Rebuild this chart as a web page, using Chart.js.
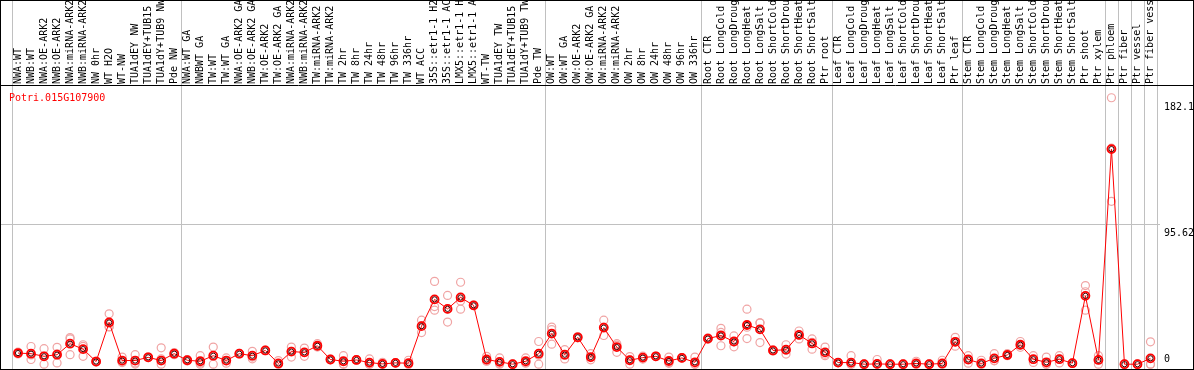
<!DOCTYPE html>
<html>
<head>
<meta charset="utf-8">
<script src="https://cdn.jsdelivr.net/npm/chart.js@4.4.1/dist/chart.umd.min.js"></script>
<style>
  html, body { margin: 0; padding: 0; background: #fff; }
  canvas { display: block; }
</style>
</head>
<body>
<canvas id="exprChart" width="1194" height="370"></canvas>
<script>
const geneId = "Potri.015G107900";

const categories = [
  "NWA:WT", "NWB:WT", "NWA:OE-ARK2", "NWB:OE-ARK2", "NWA:miRNA-ARK2", "NWB:miRNA-ARK2",
  "NW 0hr", "WT H2O", "WT-NW", "TUA1dEY NW", "TUA1dEY+TUB15 NW", "TUA1dY+TUB9 NW", "Pde NW",
  "NWA:WT GA", "NWBWT GA", "TW:WT", "TW:WT GA", "NWA:OE-ARK2 GA", "NWB:OE-ARK2 GA",
  "TW:OE-ARK2", "TW:OE-ARK2 GA", "NWA:miRNA-ARK2 GA", "NWB:miRNA-ARK2 GA", "TW:miRNA-ARK2",
  "TW:miRNA-ARK2 GA", "TW 2hr", "TW 8hr", "TW 24hr", "TW 48hr", "TW 96hr", "TW 336hr",
  "WT ACC", "35S::etr1-1 H2O", "35S::etr1-1 ACC", "LMX5::etr1-1 H2O", "LMX5::etr1-1 ACC",
  "WT-TW", "TUA1dEY TW", "TUA1dEY+TUB15 TW", "TUA1dY+TUB9 TW", "Pde TW",
  "OW:WT", "OW:WT GA", "OW:OE-ARK2", "OW:OE-ARK2 GA", "OW:miRNA-ARK2", "OW:miRNA-ARK2 GA",
  "OW 2hr", "OW 8hr", "OW 24hr", "OW 48hr", "OW 96hr", "OW 336hr",
  "Root CTR", "Root LongCold", "Root LongDrought", "Root LongHeat", "Root LongSalt",
  "Root ShortCold", "Root ShortDrought", "Root ShortHeat", "Root ShortSalt", "Ptr root",
  "Leaf CTR", "Leaf LongCold", "Leaf LongDrought", "Leaf LongHeat", "Leaf LongSalt",
  "Leaf ShortCold", "Leaf ShortDrought", "Leaf ShortHeat", "Leaf ShortSalt", "Ptr leaf",
  "Stem CTR", "Stem LongCold", "Stem LongDrought", "Stem LongHeat", "Stem LongSalt",
  "Stem ShortCold", "Stem ShortDrought", "Stem ShortHeat", "Stem ShortSalt",
  "Ptr shoot", "Ptr xylem", "Ptr phloem", "Ptr fiber", "Ptr vessel", "Ptr fiber vessel"
];

// mean expression per sample
const means = [
  7.6, 7.2, 5.4, 6.5, 14, 10.3, 1.8, 28.5, 2.5, 2.5, 4.7, 2.5, 7.2,
  2.7, 2.0, 5.8, 2.5, 7.2, 5.8, 9.4, 0.5, 8.6, 8.1, 12.6, 3.2, 2.0, 2.9, 1.1, 0.2, 0.9, 0.7,
  26, 44.3, 37.8, 45.6, 40.2, 3.2, 1.6, 0, 2.0, 7.2,
  20.9, 6.5, 18.4, 4.9, 25, 11.7, 2.7, 4.5, 5.4, 2.2, 4.3, 1.3,
  17.5, 19.6, 15.5, 26.8, 23.8, 9.4, 9.9, 20, 14.2, 8.1,
  1.1, 1.1, 0, 0.2, 0, 0, 0.5, 0, 0.5, 15.3,
  3.2, 0.5, 4, 6.3, 13.3, 3.4, 1.3, 3.4, 0.7,
  46.7, 2.9, 147, 0, 0, 4
];

// individual replicates
const rep1 = [
  8.2, 12.1, 10.6, 11.5, 18.2, 13.3, 1.8, 34.4, 4.9, 6.5, 5.0, 11.2, 7.2,
  2.7, 5.8, 11.7, 4.3, 7.2, 8.8, 9.4, 2.5, 11.7, 11, 14, 3.2, 5.8, 2.9, 3.6, 1.3, 0.9, 2.7,
  30.1, 56.6, 47, 56, 40.2, 5.4, 4.3, 0, 4.3, 15.5,
  25.4, 9.9, 18.4, 7.2, 30.1, 14, 5.2, 5.5, 5.4, 4.9, 4.3, 4.9,
  17.5, 24.5, 19.3, 37.6, 28.3, 9.4, 13.3, 22.7, 17.3, 11.7,
  1.1, 5.8, 0, 3.2, 0, 0, 2, 0, 2.7, 18.4,
  5.8, 2.7, 7.2, 7.2, 15.5, 5.8, 4.9, 5.8, 0.7,
  53.7, 5.8, 182.1, 0, 0, 15.3
];
const rep2 = [
  7.0, 3.2, 0, 0.9, 6.5, 5.4, 1.5, 25.6, 1.5, 0.9, 4.5, 3.6, 6.5,
  3.2, 0.9, 0, 2.5, 7.5, 4.9, 9.2, 0, 4.9, 5.4, 12, 3.5, 0.2, 3.2, 0, 0, 0.9, 0,
  21.6, 36.9, 28.8, 37.6, 40, 2, 0.5, 0, 1, 0,
  13.7, 3.6, 18, 4.5, 19.6, 8.1, 0, 3.5, 5.6, 1.1, 4.5, 0,
  17, 12.6, 11.9, 17.5, 14.8, 9, 6.9, 20, 10.3, 5.8,
  1.1, 0, 0, 0, 0, 0, 0, 0, 0, 15.3,
  3.2, 0, 2.5, 6, 13, 3.2, 0, 3.6, 0.7,
  36.9, 3, 111.3, 0, 0, 0
];
const rep3 = [
  7.6, 6.3, 5.6, 7.0, 17.3, 12.2, 2.1, 25.5, 1.1, 0.1, 4.6, 0, 8.0,
  2.2, 0, 5.8, 0.7, 7.0, 3.7, 9.6, 0, 8.8, 8, 11.8, 3, 0, 2.7, 0, 0, 0.9, 0,
  26.3, 39.4, 37.6, 43.2, 40.4, 2.2, 0, 0, 0.7, 6.1,
  23.6, 6, 18.8, 3, 25.3, 13, 2.9, 4.5, 5.2, 0.6, 4.1, 0,
  18, 21.7, 15.3, 25.3, 28.3, 9.8, 9.5, 17.3, 15, 6.8,
  1.1, 0, 0, 0, 0, 0, 0, 0, 0, 12.3,
  0.7, 0, 2.3, 5.8, 11.5, 1.2, 0, 0.9, 0.7,
  49.5, 0, 147.6, 0, 0, 0
];

const yTickValues = [0, 95.62, 182.1];
const yTickLabels = ["0", "95.62", "182.1"];

// first sample index of each group (vertical separators)
const groupStarts = [0, 13, 41, 53, 63, 73, 84, 85, 86, 87, 88];

const MONO = "'DejaVu Sans Mono', 'Liberation Mono', monospace";

const framePlugin = {
  id: "framePlugin",
  beforeDatasetsDraw(chart) {
    const { ctx, chartArea: a, scales: { x, y } } = chart;
    ctx.save();
    ctx.strokeStyle = "#c0c0c0";
    ctx.lineWidth = 1;
    groupStarts.forEach(i => {
      const px = Math.round(x.getPixelForValue(i - 0.5)) + 0.5;
      ctx.beginPath();
      ctx.moveTo(px, 0);
      ctx.lineTo(px, chart.height);
      ctx.stroke();
    });
    const gy = Math.round(y.getPixelForValue(yTickValues[1])) + 0.5;
    ctx.beginPath();
    ctx.moveTo(0, gy);
    ctx.lineTo(a.right + 3, gy);
    ctx.stroke();
    ctx.restore();
  },
  afterDraw(chart) {
    const { ctx, chartArea: a, scales: { y } } = chart;
    ctx.save();
    ctx.strokeStyle = "#000";
    ctx.lineWidth = 1;
    ctx.strokeRect(0.5, 0.5, chart.width - 1, chart.height - 1);
    ctx.beginPath();
    ctx.moveTo(0, a.top + 0.5);
    ctx.lineTo(chart.width, a.top + 0.5);
    ctx.stroke();

    ctx.font = "10px " + MONO;
    ctx.textBaseline = "alphabetic";
    ctx.textAlign = "left";
    ctx.fillStyle = "#000";
    yTickValues.forEach((v, i) => {
      const py = y.getPixelForValue(v);
      const off = v === 0 ? -2 : 12;
      ctx.fillText(yTickLabels[i], a.right + 7, py + off);
    });

    ctx.fillStyle = "#ff0000";
    ctx.fillText(geneId, 9, a.top + 16);
    ctx.restore();
  }
};

const repStyle = {
  showLine: false,
  pointRadius: 4,
  pointHoverRadius: 4,
  pointBorderWidth: 1.2,
  pointBorderColor: "#f0a4a4",
  pointBackgroundColor: "rgba(0,0,0,0)",
  order: 2,
  clip: false
};

new Chart(document.getElementById("exprChart"), {
  type: "line",
  data: {
    labels: categories,
    datasets: [
      {
        data: means,
        borderColor: "#ff0000",
        borderWidth: 1,
        tension: 0,
        pointRadius: 4,
        pointHoverRadius: 4,
        pointBorderWidth: 1.8,
        pointBorderColor: "#ff0000",
        pointBackgroundColor: "rgba(0,0,0,0)",
        order: 1,
        clip: false
      },
      {
        data: means,
        showLine: false,
        pointRadius: 2.6,
        pointHoverRadius: 2.6,
        pointBorderWidth: 1,
        pointBorderColor: "#400000",
        pointBackgroundColor: "rgba(0,0,0,0)",
        order: 0,
        clip: false
      },
      { data: rep1, ...repStyle },
      { data: rep2, ...repStyle },
      { data: rep3, ...repStyle }
    ]
  },
  options: {
    responsive: false,
    animation: false,
    layout: {
      padding: { left: 11.5, right: 37, top: 0, bottom: 2 }
    },
    scales: {
      x: {
        position: "top",
        offset: true,
        grid: { display: false, drawTicks: false },
        border: { display: false },
        ticks: {
          autoSkip: false,
          minRotation: 90,
          maxRotation: 90,
          padding: 1,
          labelOffset: 12,
          color: "#000",
          font: { family: MONO, size: 10 }
        },
        afterFit(scale) {
          scale.height = 85;
          scale.paddingLeft = 0;
          scale.paddingRight = 0;
        }
      },
      y: {
        display: false,
        min: 0,
        max: 190.8
      }
    },
    plugins: {
      legend: { display: false },
      tooltip: { enabled: false }
    }
  },
  plugins: [framePlugin]
});
</script>
</body>
</html>
